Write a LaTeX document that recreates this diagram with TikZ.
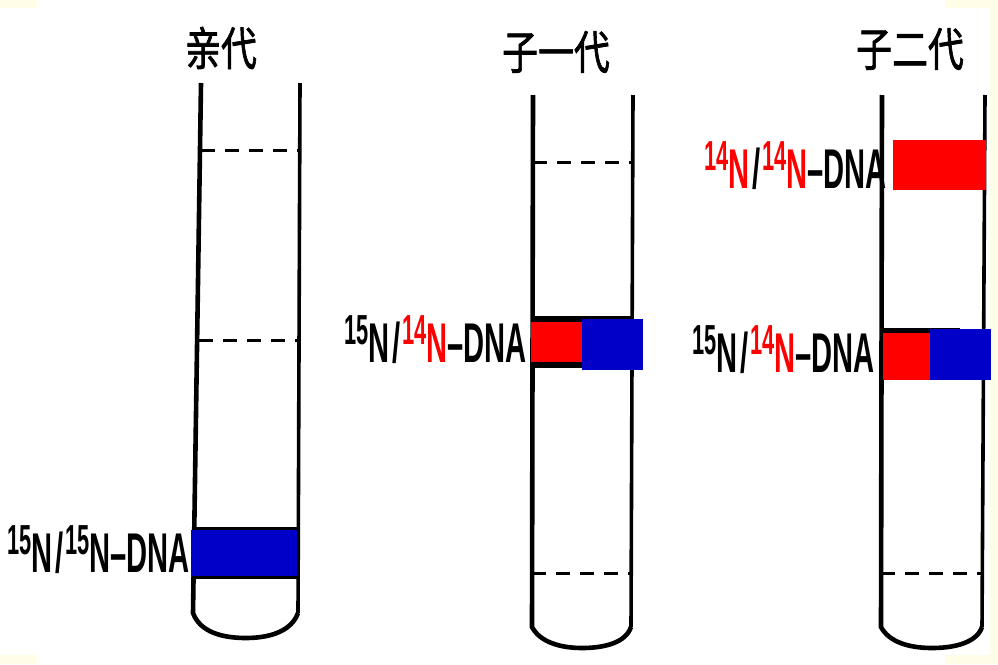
\documentclass[tikz,border=0pt]{standalone}
\usepackage{fontspec}
\setmainfont{Liberation Sans}
\newfontfamily\cjk[FakeBold=1.6]{Noto Sans CJK SC}
\definecolor{slide}{RGB}{255,252,232}
\definecolor{bandred}{RGB}{255,0,0}
\definecolor{bandblue}{RGB}{0,0,200}
\newcommand{\iso}[2]{\raisebox{18pt}{\fontsize{42}{42}\selectfont #1}#2}
\newcommand{\sep}{\hspace{4pt}/\hspace{4pt}}
\newcommand{\lbl}[1]{\scalebox{0.52}[1]{\fontsize{56}{56}\selectfont\bfseries #1}}
\begin{document}
\begin{tikzpicture}[x=1pt,y=-1pt,
  wall/.style={line width=4.6pt},
  thinwall/.style={line width=3.6pt},
  level/.style={line width=3pt,dash pattern=on 14pt off 10pt},
  title/.style={font=\cjk\fontsize{46}{46}\selectfont,xscale=0.78,inner sep=0pt},
  tag/.style={anchor=base east,inner sep=0pt}]
% page
\fill[slide] (0,0) rectangle (998,664);
\fill[white] (0,8) rectangle (990,655);
\fill[white] (37,0) rectangle (945,664);
\useasboundingbox (0,0) rectangle (998,664);

% ---- parent tube ----
\node[title] (t1) at (221,48) {亲代};
\draw[wall] (201,83) -- (193,613)
  .. controls (200,632) and (222,638) .. (246,638)
  .. controls (272,638) and (292,630) .. (298,613);
\draw[thinwall] (298,613) -- (300,83);
\draw[level] (201,150) -- (300,150);
\draw[level] (199,340) -- (299,340);
\fill[black] (193,527) rectangle (297,579);
\fill[bandblue] (191,530) rectangle (297,576);
\node[tag] (l1) at (190,572) {\lbl{\iso{15}{N}\sep\iso{15}{N}–DNA}};

% ---- first generation ----
\node[title] (t2) at (556,52) {子一代};
\draw[wall] (533,95) -- (532,627)
  .. controls (540,642) and (560,648) .. (582,648)
  .. controls (606,648) and (626,642) .. (631,627);
\draw[thinwall] (631,627) -- (633,95);
\draw[level] (533,162) -- (633,162);
\draw[level] (532,573) -- (632,573);
\fill[black] (535,316) rectangle (633,368);
\fill[bandred] (531,322) rectangle (582,362);
\fill[bandblue] (582,319) rectangle (643,370);
\node[tag] (l2) at (527,362) {\lbl{\iso{15}{N}\sep\textcolor{bandred}{\iso{14}{N}}–DNA}};

% ---- second generation ----
\node[title] (t3) at (910,49) {子二代};
\draw[wall] (882,95) -- (881,627)
  .. controls (889,642) and (909,648) .. (932,648)
  .. controls (956,648) and (977,642) .. (982,627);
\draw[thinwall] (982,627) -- (985,95);
\draw[level] (881,573) -- (984,573);
\fill[bandred] (893,140) rectangle (986,190);
\node[tag] (l3) at (887,188) {\lbl{\textcolor{bandred}{\iso{14}{N}}\sep\textcolor{bandred}{\iso{14}{N}}–DNA}};
\fill[black] (883,328) rectangle (960,380);
\fill[bandred] (883,333) rectangle (930,380);
\fill[bandblue] (930,329) rectangle (991,380);
\node[tag] (l4) at (875,372) {\lbl{\iso{15}{N}\sep\textcolor{bandred}{\iso{14}{N}}–DNA}};
\end{tikzpicture}
\end{document}
